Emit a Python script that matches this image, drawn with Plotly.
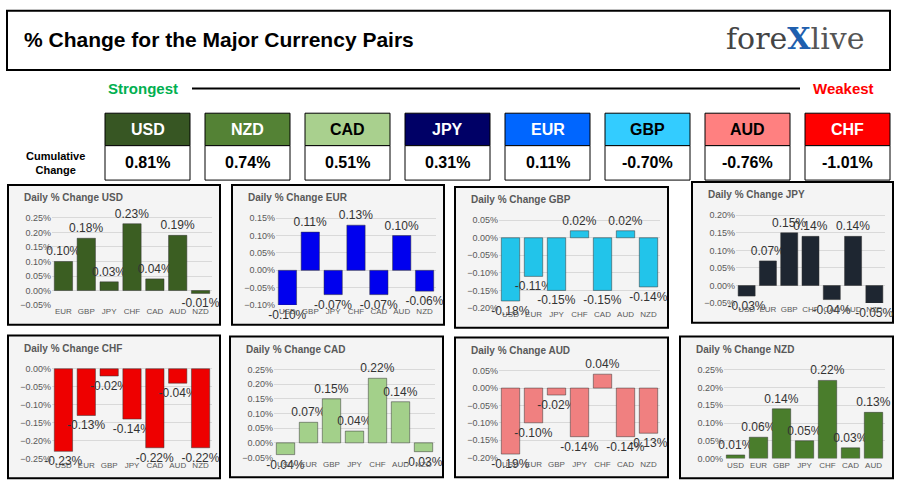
import plotly.graph_objects as go

W, H = 900, 495
currencies = ["USD", "NZD", "CAD", "JPY", "EUR", "GBP", "AUD", "CHF"]
cumulative = [0.81, 0.74, 0.51, 0.31, 0.11, -0.70, -0.76, -1.01]
head_colors = ["#375623", "#548235", "#a9d08e", "#000066", "#0066ff", "#33ccff", "#ff8080", "#ff0000"]
head_text = ["white", "white", "black", "white", "white", "black", "black", "white"]

usd_cats = ["EUR", "GBP", "JPY", "CHF", "CAD", "AUD", "NZD"]
usd_vals = [0.10, 0.18, 0.03, 0.23, 0.04, 0.19, -0.01]
eur_cats = ["USD", "GBP", "JPY", "CHF", "CAD", "AUD", "NZD"]
eur_vals = [-0.10, 0.11, -0.07, 0.13, -0.07, 0.10, -0.06]
gbp_cats = ["USD", "EUR", "JPY", "CHF", "CAD", "AUD", "NZD"]
gbp_vals = [-0.18, -0.11, -0.15, 0.02, -0.15, 0.02, -0.14]
jpy_cats = ["USD", "EUR", "GBP", "CHF", "CAD", "AUD", "NZD"]
jpy_vals = [-0.03, 0.07, 0.15, 0.14, -0.04, 0.14, -0.05]
chf_cats = ["USD", "EUR", "GBP", "JPY", "CAD", "AUD", "NZD"]
chf_vals = [-0.23, -0.13, -0.02, -0.14, -0.22, -0.04, -0.22]
cad_cats = ["USD", "EUR", "GBP", "JPY", "CHF", "AUD", "NZD"]
cad_vals = [-0.04, 0.07, 0.15, 0.04, 0.22, 0.14, -0.03]
aud_cats = ["USD", "EUR", "GBP", "JPY", "CHF", "CAD", "NZD"]
aud_vals = [-0.19, -0.10, -0.02, -0.14, 0.04, -0.14, -0.13]
nzd_cats = ["USD", "EUR", "GBP", "JPY", "CHF", "CAD", "AUD"]
nzd_vals = [0.01, 0.06, 0.14, 0.05, 0.22, 0.03, 0.13]

panels = [
    ("USD", usd_cats, usd_vals, "#3b5e22", (8, 185, 220, 327), (-0.05, 0.25)),
    ("EUR", eur_cats, eur_vals, "#0000ee", (232, 185, 444, 327), (-0.10, 0.15)),
    ("GBP", gbp_cats, gbp_vals, "#22c4ea", (455, 187, 668, 330), (-0.20, 0.05)),
    ("JPY", jpy_cats, jpy_vals, "#1e2631", (692, 182, 893, 325), (-0.05, 0.20)),
    ("CHF", chf_cats, chf_vals, "#ee0000", (8, 338, 220, 483), (-0.25, 0.00)),
    ("CAD", cad_cats, cad_vals, "#a3d08a", (230, 339, 443, 482), (-0.05, 0.25)),
    ("AUD", aud_cats, aud_vals, "#f08080", (455, 340, 668, 482), (-0.20, 0.05)),
    ("NZD", nzd_cats, nzd_vals, "#4a7d2c", (680, 339, 893, 483), (0.00, 0.25)),
]

def px(x): return x / W
def py(y): return 1 - y / H

fig = go.Figure()
shapes, anns = [], []
FONT = "Liberation Sans"

def ann(x, y, text, size, color, xanchor="center", yanchor="middle", family=FONT):
    anns.append(dict(x=px(x), y=py(y), xref="paper", yref="paper", xanchor=xanchor, yanchor=yanchor,
                     text=text, showarrow=False, font=dict(family=family, size=size, color=color)))

shapes.append(dict(type="rect", xref="paper", yref="paper", x0=px(7), x1=px(890), y0=py(68), y1=py(8),
                   line=dict(color="black", width=2), fillcolor="white", layer="below"))
ann(22, 37, "<b>% Change for the Major Currency Pairs</b>", 21, "black", xanchor="left")
ann(866, 36, "<span style='color:#444'>fore</span><span style='color:#1f5fae'><b>X</b></span><span style='color:#555'>live</span>",
    30, "#444", xanchor="right", family="DejaVu Serif")

ann(143, 87, "<b>Strongest</b>", 15, "#00b050")
ann(843, 87, "<b>Weakest</b>", 15, "#ff0000")
shapes.append(dict(type="line", xref="paper", yref="paper", x0=px(192), x1=px(800), y0=py(87), y1=py(87),
                   line=dict(color="black", width=2)))
ann(55, 163, "<b>Cumulative<br>Change</b>", 11, "black")

for i, (c, v) in enumerate(zip(currencies, cumulative)):
    x0 = 105 + 100 * i
    x1 = x0 + 85
    shapes.append(dict(type="rect", xref="paper", yref="paper", x0=px(x0), x1=px(x1), y0=py(145), y1=py(112),
                       fillcolor=head_colors[i], line=dict(color="black", width=1)))
    shapes.append(dict(type="rect", xref="paper", yref="paper", x0=px(x0), x1=px(x1), y0=py(180), y1=py(145),
                       fillcolor="white", line=dict(color="black", width=1)))
    ann((x0 + x1) / 2, 128.5, f"<b>{c}</b>", 16, head_text[i])
    ann((x0 + x1) / 2, 162.5, f"<b>{v:.2f}%</b>", 16, "black")

for k, (name, cats, vals, col, (x0, y0, x1, y1), yr) in enumerate(panels):
    ax = "" if k == 0 else str(k + 1)
    shapes.append(dict(type="rect", xref="paper", yref="paper", x0=px(x0), x1=px(x1), y0=py(y1), y1=py(y0),
                       fillcolor="#f4f4f4", line=dict(color="black", width=2), layer="below"))
    ann(x0 + 14, y0 + 13, f"<b>Daily % Change {name}</b>", 10, "#595959", xanchor="left")
    fig.add_trace(go.Bar(x=cats, y=vals, marker=dict(color=col, line=dict(color="#333", width=0.5)),
                         texttemplate="%{y:.2f}%", textposition="outside", cliponaxis=False,
                         constraintext="none",
                         textfont=dict(family=FONT, size=12, color="#333"),
                         xaxis="x" + ax, yaxis="y" + ax, width=0.8, showlegend=False))
    dom_x = [px(x0 + 44), px(x1 - 8)]
    dom_y = [py(y1 - 20), py(y0 + 32)]
    fig.layout["xaxis" + ax] = dict(domain=dom_x, anchor="y" + ax, showgrid=False, zeroline=False,
                                    tickfont=dict(family=FONT, size=8, color="#595959"), showline=False,
                                    ticks="", fixedrange=True)
    fig.layout["yaxis" + ax] = dict(domain=dom_y, anchor="x" + ax, range=[yr[0], yr[1] + 0.005],
                                    dtick=0.05, tickformat=".2f", ticksuffix="%", gridcolor="#d9d9d9",
                                    zeroline=False, tickfont=dict(family=FONT, size=9, color="#595959"),
                                    ticks="", fixedrange=True)

fig.update_layout(width=W, height=H, margin=dict(l=0, r=0, t=0, b=0), paper_bgcolor="white",
                  plot_bgcolor="#f4f4f4", shapes=shapes, annotations=anns)
fig.write_html("out.html", config={"displayModeBar": False})
with open("out.html") as f:
    html = f.read()
html = html.replace("<head>", "<head><style>html,body{margin:0;padding:0;overflow:hidden}</style>", 1)
with open("out.html", "w") as f:
    f.write(html)
